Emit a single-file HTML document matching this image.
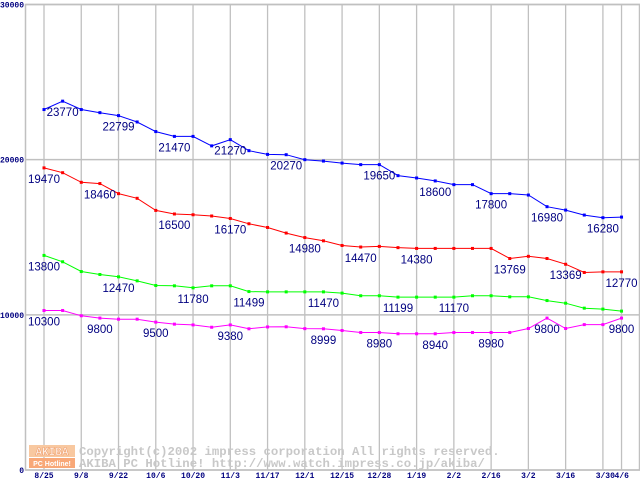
<!DOCTYPE html>
<html><head><meta charset="utf-8">
<style>
html,body{margin:0;padding:0;background:#fff;}
svg{display:block;}
</style></head>
<body>
<svg id="chart" width="640" height="480" viewBox="0 0 640 480" xmlns="http://www.w3.org/2000/svg">
<g id="grid"></g>
<g id="wm">
  <rect x="29" y="445" width="46" height="12" fill="#f8c8a0"/>
  <text x="52" y="455" font-family="Liberation Mono, monospace" font-size="11" font-weight="bold" fill="#fff" text-anchor="middle" stroke="#f0a070" stroke-width="0.6">AKIBA</text>
  <rect x="29" y="458" width="46" height="10" fill="#f8a878"/>
  <text x="52" y="466" font-family="Liberation Sans, sans-serif" font-size="7" font-weight="bold" fill="#fff" text-anchor="middle">PC Hotline!</text>
  <text x="79" y="455" font-family="Liberation Mono, monospace" font-size="12.3" font-weight="bold" fill="#c8c8c8">Copyright(c)2002 impress corporation All rights reserved.</text>
  <text x="79" y="467" font-family="Liberation Mono, monospace" font-size="12.3" font-weight="bold" fill="#c8c8c8">AKIBA PC Hotline!  http://www.watch.impress.co.jp/akiba/</text>
</g>
<g id="series"></g>
<g id="labels"></g>
</svg>
<script>
const xCats = ["8/25","9/8","9/22","10/6","10/20","11/3","11/17","12/1","12/15","12/28","1/19","2/2","2/16","3/2","3/16","3/30","4/6"];
const yTicks = [0,10000,20000,30000];
const blueVals = [23230,23770,23230,23030,22840,22430,21810,21500,21500,20890,21290,20580,20340,20320,20000,19910,19780,19680,19680,18970,18820,18630,18390,18390,17810,17810,17720,16970,16750,16430,16260,16300];
const redVals = [19470,19160,18540,18460,17810,17510,16730,16500,16450,16370,16210,15870,15630,15270,14980,14770,14470,14370,14410,14330,14280,14280,14280,14280,14280,13630,13770,13630,13260,12730,12770,12770];
const greenVals = [13830,13420,12790,12600,12450,12190,11890,11870,11740,11870,11870,11500,11480,11480,11480,11480,11400,11230,11230,11140,11140,11140,11140,11230,11230,11160,11160,10920,10750,10430,10370,10240];
const pinkVals = [10280,10280,9940,9790,9720,9720,9530,9400,9350,9200,9350,9100,9220,9230,9110,9100,8990,8860,8860,8780,8780,8780,8860,8860,8860,8860,9120,9790,9120,9370,9370,9790];
const blueLabels = [[1,23770],[4,22799],[7,21470],[10,21270],[13,20270],[18,19650],[21,18600],[24,17800],[27,16980],[30,16280]];
const redLabels = [[0,19470],[3,18460],[7,16500],[10,16170],[14,14980],[17,14470],[20,14380],[25,13769],[28,13369],[31,12770]];
const greenLabels = [[0,13800],[4,12470],[8,11780],[11,11499],[15,11470],[19,11199],[22,11170]];
const pinkLabels = [[0,10300],[3,9800],[6,9500],[10,9380],[15,8999],[18,8980],[21,8940],[24,8980],[27,9800],[31,9800]];

const NS="http://www.w3.org/2000/svg";
const X0=44, STEP=18.63, Y0=470, YTOP=4.5, YMAX=30000;
function xPt(i){return X0+i*STEP;}
function xCat(i){return i<16 ? X0+i*2*STEP : X0+31*STEP;}
function yv(v){return Y0-(v/YMAX)*(Y0-YTOP);}
function mk(tag,attrs,parent){const e=document.createElementNS(NS,tag);for(const k in attrs)e.setAttribute(k,attrs[k]);parent.appendChild(e);return e;}

const grid=document.getElementById('grid');
const frame=mk('rect',{x:25.5,y:4.5,width:614,height:465.5,fill:'none',stroke:'#c0c0c0','stroke-width':1.5},grid);


yTicks.forEach(t=>{
  const y=yv(t);
  const l=mk('line',{x1:25.5,x2:640,y1:y,y2:y,stroke:'#c0c0c0','stroke-width':1.5},grid);
  
  
  const tx=mk('text',{x:24,y:y+3,'font-family':'Liberation Mono, monospace','font-size':8,'font-weight':'bold',fill:'#000080','text-anchor':'end'},grid);
  tx.textContent=String(t);
  
  
});
xCats.forEach((c,i)=>{
  const x=xCat(i);
  const l=mk('line',{x1:x,x2:x,y1:4.5,y2:470,stroke:'#c0c0c0','stroke-width':1.3},grid);
  
  
  const anchor = c==="3/30" ? 'end' : (c==="4/6" ? 'start' : 'middle');
  const tx=mk('text',{x: c==="3/30"? x+12 : (c==="4/6"? x-7 : x),y:478,'font-family':'Liberation Mono, monospace','font-size':8,'font-weight':'bold',fill:'#000080','text-anchor':anchor},grid);
  tx.textContent=c;
  
  
});

const sg=document.getElementById('series');
const lg=document.getElementById('labels');
function drawSeries(vals,color,name){
  const pts=vals.map((v,i)=>xPt(i).toFixed(1)+','+yv(v).toFixed(1)).join(' ');
  const pl=mk('polyline',{points:pts,fill:'none',stroke:color,'stroke-width':1},sg);
  
  
  vals.forEach((v,i)=>{
    const r=mk('rect',{x:xPt(i)-1.5,y:yv(v)-1.5,width:3,height:3,fill:color},sg);
    
    
  });
}
function drawLabels(list,vals,name){
  list.forEach(([i,v])=>{
    const t=mk('text',{x:xPt(i),y:yv(vals[i])+15,'font-family':'Liberation Sans, sans-serif','font-size':11.5,fill:'#000080','text-anchor':'middle'},lg);
    t.textContent=String(v);
    
    
  });
}
drawSeries(blueVals,'#0000ff','blue-series');
drawSeries(redVals,'#ff0000','red-series');
drawSeries(greenVals,'#00ff00','green-series');
drawSeries(pinkVals,'#ff00ff','magenta-series');
drawLabels(blueLabels,blueVals,'blue');
drawLabels(redLabels,redVals,'red');
drawLabels(greenLabels,greenVals,'green');
drawLabels(pinkLabels,pinkVals,'magenta');
</script>
</body></html>
